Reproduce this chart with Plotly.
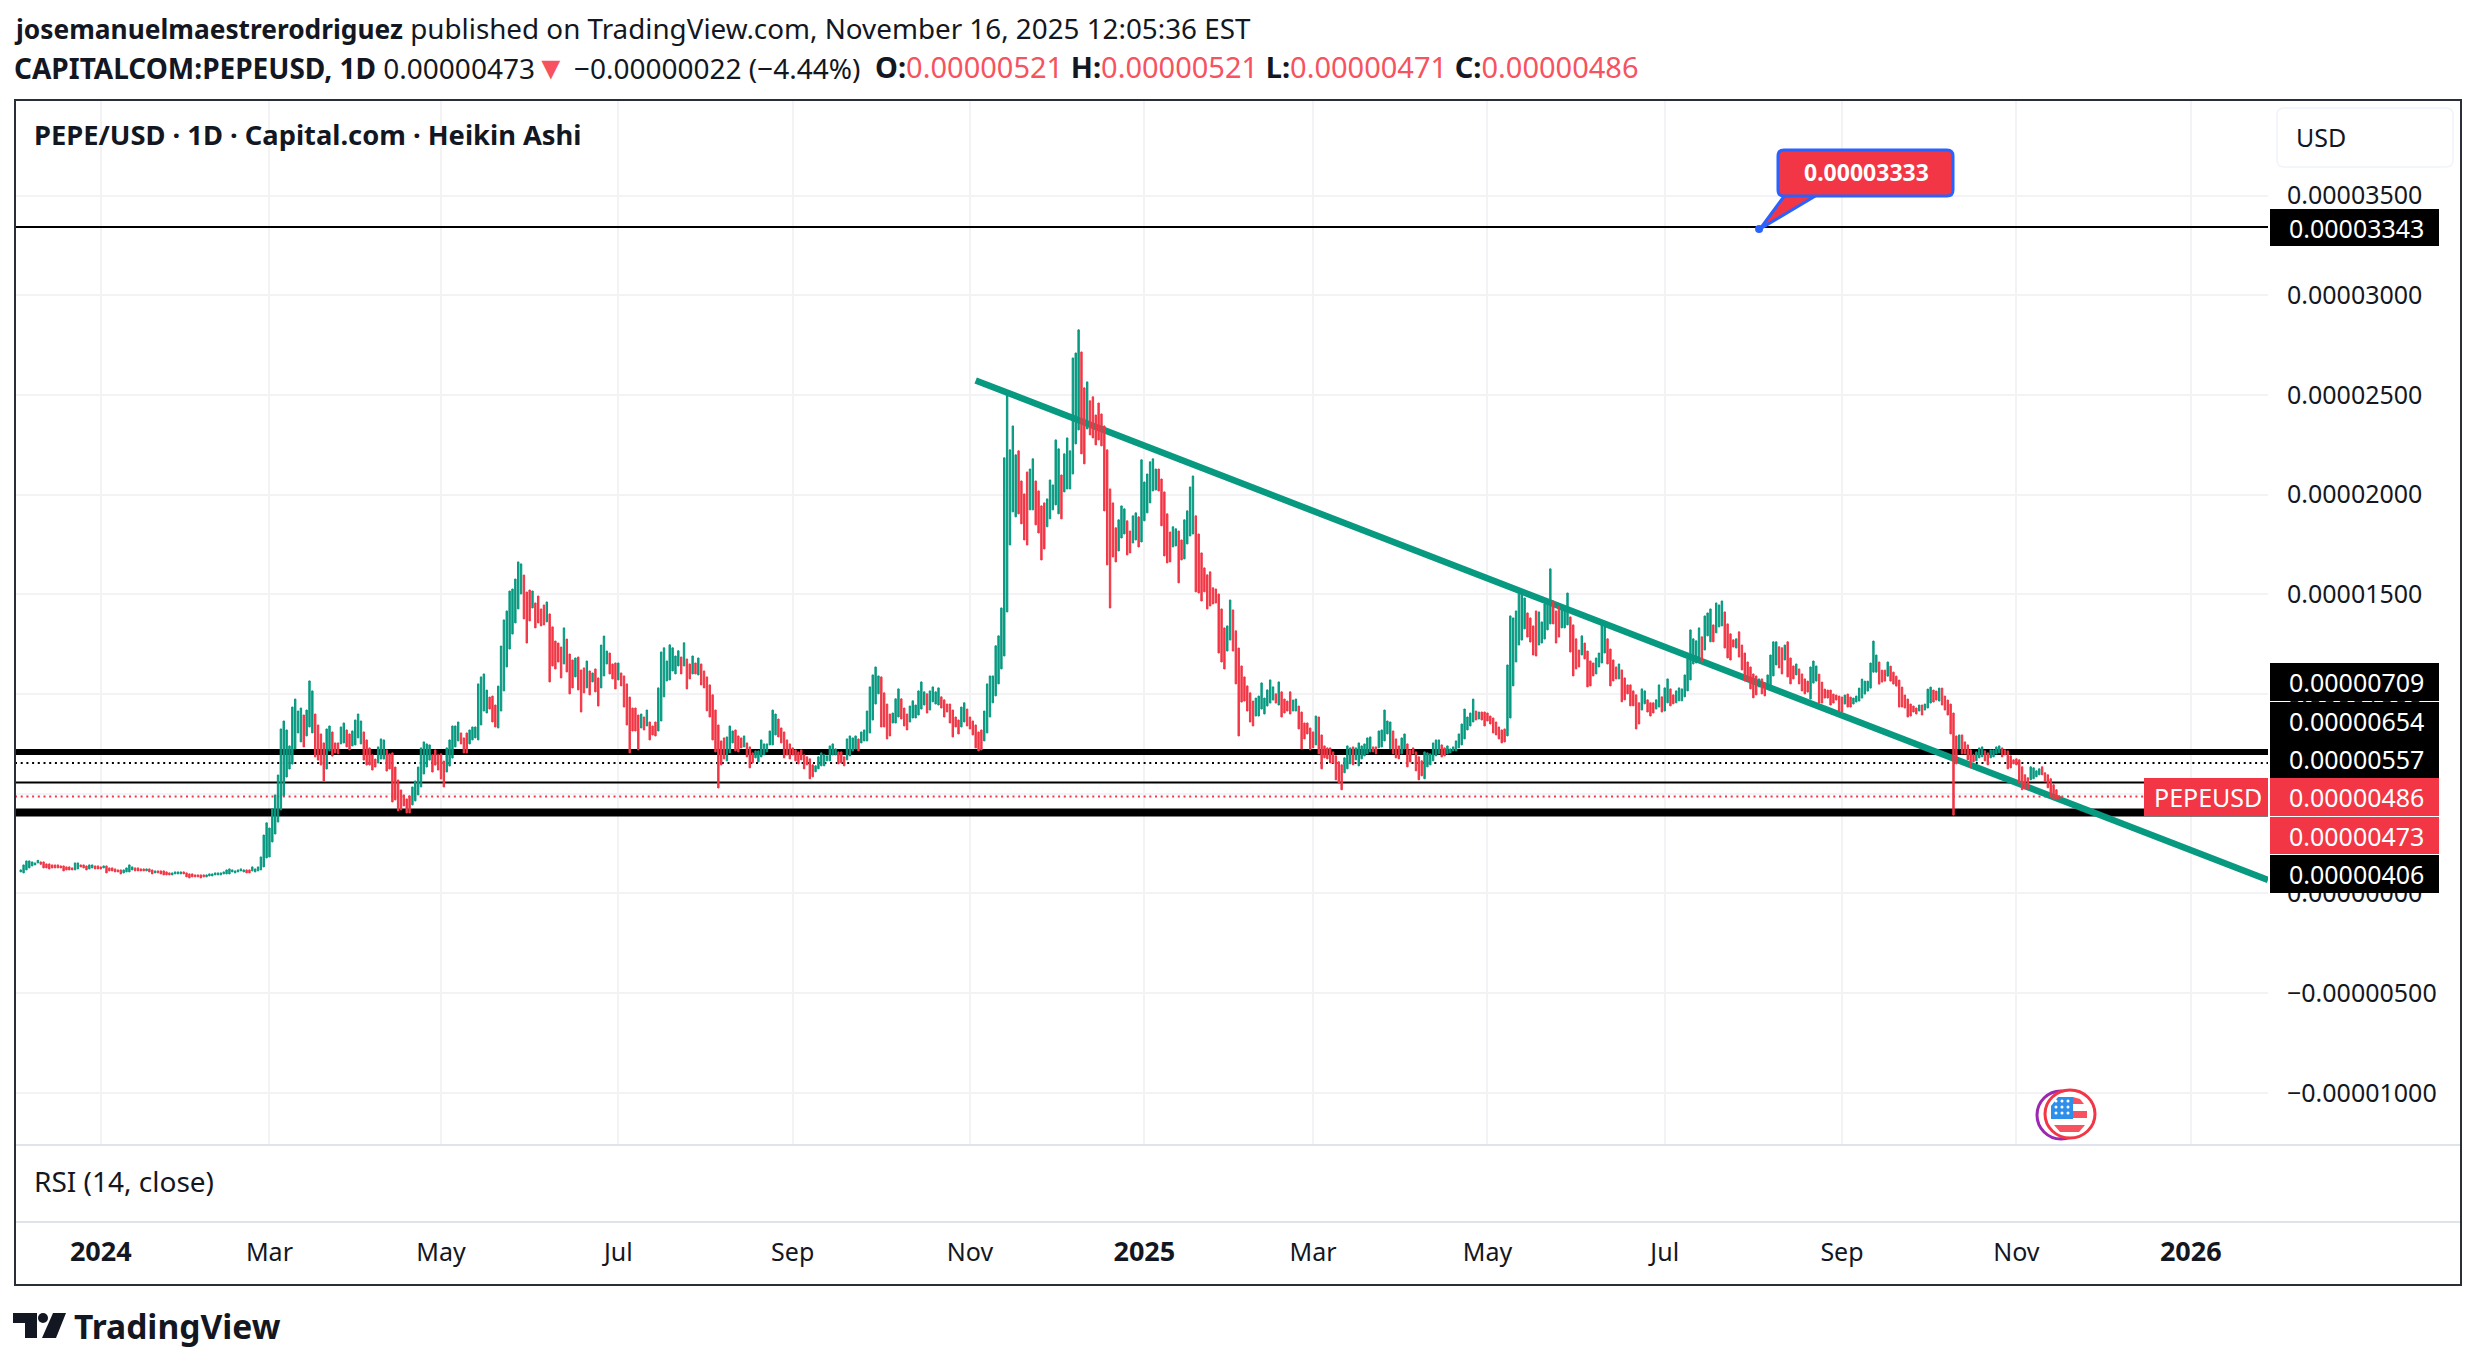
import pandas as pd
import plotly.graph_objects as go

# prices in units of 1e-8 USD
E8 = 1e-8
GREEN = "#089981"
RED = "#F23645"
INK = "#131722"
FONT = "Noto Sans"

low_a = [108,103,118,128,138,143,153,146,128,128,
         123,128,128,128,128,113,118,118,118,118,
         123,133,128,118,123,128,123,123,123,128,
         103,113,113,108,108,98,103,108,108,118,
         113,113,113,113,113,108,98,103,103,98,
         93,93,93,93,98,98,98,98,83,78,
         83,83,83,78,83,83,88,88,93,93,
         93,98,98,98,108,103,108,113,108,103,
         103,113,108,113,118,133,178,183,258,298,
         358]
high_a = [118,143,163,163,158,153,166,158,158,148,
          148,143,143,143,138,138,133,133,128,153,
          153,143,143,138,143,143,138,138,133,138,
          138,128,128,123,118,118,118,128,143,133,
          128,128,123,123,123,123,118,113,113,113,
          113,108,103,103,108,108,108,108,103,98,
          98,93,93,93,93,93,98,98,103,103,
          103,108,118,123,118,113,118,123,118,118,
          118,133,123,133,183,293,354,328,424,494,
          594]
side_a = ("GGGGGGGRRR" "RRRRRRRRRG" "GRRRGGRRRG" "RRRRRRGGGG" "RRRRGRRGRR"
          "RRRGGGGRRR" "RRRRRGGGGG" "GGGGGGGGGR" "RGGGGGGGGG" "G")

low_b = [419,489,584,624,649,725,805,760,735,790,
         835,805,685,669,644,564,624,715,689,705,
         700,750,755,735,720,740,745,780,750,669,
         644,644,619,634,654,674,674,614,624,459,
         469,414,419,439,404,404,444,464,494,534,
         599,634,669,609,644,619,574,534,609,639,
         679,735,765,750,705,705,750,770,780,770,
         845,915,905,925,860,835,830,915]
high_b = [825,865,820,740,935,975,915,930,895,920,
          1066,1016,900,845,800,755,825,840,810,755,
          755,835,855,820,800,815,870,900,865,810,
          770,730,695,674,735,775,770,720,700,705,
          634,569,519,494,474,489,534,564,634,730,
          760,750,745,695,720,695,700,664,730,770,
          840,840,860,805,780,805,820,835,835,1051,
          1086,1101,1020,985,990,945,1040,1241]
side_b = ("GGGGGGGGRG" "GGRRRRGGRR" "RGGRRGGGGR" "RRRRGGGRRR" "RRRRRRGGGG"
          "GGGRRRRRGG" "GGGRRRGGGG" "GGGRRRGG")

low_c = [1016,1136,1226,1301,1357,1427,1502,1377,1256,1367,
         1432,1332,1357,1342,1347,1362,1061,1141,1126,1161,
         1081,1151,1111,1001,1031,1086,1021,910,1006,1031,
         996,1061,1011,940,1031,1091,1151,1101,1076,1026,
         1071,1041,935,845,705,815,815,720,830]
high_c = [1372,1417,1517,1527,1577,1663,1653,1597,1512,1522,
          1517,1457,1492,1427,1447,1462,1402,1337,1266,1256,
          1236,1332,1276,1201,1171,1181,1186,1121,1131,1166,
          1116,1106,1126,1081,1246,1291,1216,1206,1151,1156,
          1156,1106,1091,1051,985,930,930,895,900]
side_c = "GGGGGGGRRR" "GRRRRGRRRR" "RGRRRGRRRG" "RGRRGGGRRR" "GRRRRRRRG"

low_d = [820,840,770,795,790,815,865,986,1066,1071,
         1116,1101,1141,1101,1141,1026,1076,1101,1101,1096,
         1046,1031,916,885,770,710,529,645,675,665,
         705,755,715,710,730,735,685,630,655,680,
         660,685,695,710,745,745,795,785,755,680,
         695,675,695,665,650,670,625,645,575,585,
         610,625,640,640,665,665,695,695,650,655,
         640,670,690,715,725,715,755,765,765,805,
         870,950,1001,835,835,775,790,855,855,885,
         875,840,820,860,880,880,895,925,945,905,
         920,961,950,945,930,885,910,855,785,835,
         800,835,860,840,825,795,730,715,720,765,
         805,885,956,991,1051,1126,1191,1412]
high_d = [885,920,860,840,860,1031,1211,1232,1166,1247,
          1232,1191,1217,1186,1257,1176,1151,1191,1156,1181,
          1151,1116,1086,1046,996,920,845,765,780,785,
          840,815,820,790,780,790,755,735,705,715,
          715,770,750,750,815,920,900,875,830,810,
          770,750,730,720,710,720,695,685,675,645,
          640,685,705,695,690,740,750,725,710,710,
          685,775,790,780,790,775,810,820,915,1036,
          1096,1136,1091,1086,1006,950,900,905,976,1026,
          976,930,900,940,966,945,1016,1061,1011,1001,
          1016,1036,1011,1031,986,971,950,950,920,885,
          870,935,956,925,885,865,845,810,820,915,
          1051,1091,1091,1242,1292,1432,2185,2500]
side_d = ("RGRRRGGGGG" "GGGRGRRGRG" "RRRRRRRRRG" "GGRRRGRRRG" "GGGGGGGRRR"
          "RRRRRRRRRR" "GGGGGGGGRR" "RGGGGRGGGG" "GGGRRRRGGG" "RRRGGGGGGR"
          "GGGGRRRRRR" "RGGRRRRRRG" "GGGGGGGG")

low_e = [1748,1914,1889,1904,1854,1773,1748,1924,1924,1849,
         1808,1673,1728,1839,1879,1924,1949,1904,1879,2014,
         2029,2029,2104,2255,2325,2205,2155,2330,2300,2285,
         2250,2275,2245,1919,1648,1432,1688,1663,1718,1783,
         1803,1698,1708,1758,1773,1738,1763,1869,1909,1959,
         2019,2024,2019,1844,1693,1658,1663,1738,1743,1558,
         1673,1678,1753,1793,1803,1513,1507,1467,1513,1427,
         1442,1452,1457]
high_e = [2225,2345,2200,2220,2069,2004,2114,2129,2180,2069,
          2019,1944,1959,1979,2074,2049,2275,2230,2099,2205,
          2285,2220,2686,2711,2827,2716,2536,2566,2471,2491,
          2400,2460,2405,2345,2225,2029,1959,1834,1874,1944,
          1929,1869,1818,1894,1909,1889,2175,2064,2104,2165,
          2180,2129,2129,2079,2014,1904,1813,1839,1829,1818,
          1773,1874,1919,2039,2094,1894,1803,1708,1633,1598,
          1613,1533,1527]
side_e = ("GGGRRRRGGR" "RRRGGGGGRG" "GGGGGRRGRR" "RRRRRRRRGG" "GRRGGRGGGG"
          "GGRRRRRGGR" "RGGGGRRRRR" "RRR")

low_f = [1206,1161,1126,1216,1271,1216,1051,790,960,965,
         915,860,840,890,890,925,900,940,955,970,
         955,945,885,905,915,900,915,915,825,725,
         775,800,720,730,745,700,625,680,675,655,
         655,570,555,520,605,625,650,645,670,640,
         675,690,700,710,710,700,730,735,765,800,
         725,700,680,675,700,725,635,660,700,615,
         570,590,575,635,645,665,690,700,685,690,
         700,705,715,715,730,745,775,820,840,860,
         870,875,870,840,865,850,805,795,775,755,
         760,790,880,1041,1161,1246,1271,1327,1286,1261,
         1196,1191,1246,1256,1276,1322,1352]
high_f = [1502,1427,1332,1342,1472,1422,1317,1231,1141,1086,
          1041,1006,965,980,990,1056,980,1021,1071,1036,
          1001,1061,1011,975,965,1011,970,975,940,910,
          855,855,830,810,890,885,795,740,730,730,
          710,690,660,645,680,740,730,735,730,755,
          740,750,780,785,735,735,815,820,920,865,
          860,815,775,740,780,800,750,720,730,710,
          685,665,710,705,700,755,770,770,745,730,
          740,725,735,765,800,850,925,885,905,975,
          915,910,910,910,905,890,880,860,835,820,
          825,1146,1392,1382,1417,1527,1507,1482,1407,1382,
          1342,1417,1412,1362,1452,1472,1628]
side_f = ("RRRGGRRRRR" "RRRGGGGGGG" "RGRRRRGGRR" "RRRRGRRRRR" "RRRRGGGRGG"
          "GGGGRRGGGG" "GRRRGGRRRR" "RRGGGGGGRR" "GGGGGGGGGG" "RGRRRRRRRR"
          "RGGGGGGGRR" "RRGGGGG")

low_g = [1352,1256,1286,1332,1332,1347,1211,1091,1126,1136,
         1196,1176,1036,1041,1091,1101,1136,1156,1206,1151,
         1041,1066,1076,1076,961,971,1001,941,941,825,
         850,920,951,910,890,905,925,935,910,915,
         956,941,951,956,966,966,986,1016,1071,1151,
         1156,1186,1161,1221,1292,1262,1262,1307,1337,1342,
         1231,1181,1171,1236,1231,1186,1121,1066,1066,1026,
         981,996,1036,1001,991,1046,1046,1091,1146,1131,
         1101,1171,1086,1051,1076,1096,1051,1016,1001]
high_g = [1467,1417,1442,1442,1422,1507,1387,1347,1277,1221,
          1292,1256,1216,1166,1156,1181,1206,1347,1337,1277,
          1226,1171,1136,1151,1121,1081,1046,1046,1016,996,
          956,1026,1016,971,956,956,971,1046,986,1031,
          1076,1026,996,1016,1031,1026,1096,1176,1322,1277,
          1267,1332,1287,1392,1407,1427,1347,1457,1447,1467,
          1412,1352,1302,1272,1277,1312,1246,1206,1161,1136,
          1101,1091,1076,1076,1056,1096,1196,1262,1262,1237,
          1232,1246,1262,1181,1141,1151,1126,1101,1076]
side_g = ("RRRGGGRRRR" "GRRRRGGGGR" "RRRGRRRRRR" "RGGRRRGGRG" "GRRGGGGGGG"
          "GGRGGGRGGG" "RRRRGRRRRR" "RRGRRGGGGR" "RGRRRGRRR")

low_h = [1010,975,1055,1065,955,955,980,980,945,955,
         970,915,910,950,935,935,950,960,965,980,
         1000,1015,1030,1110,1110,1050,1060,1065,1090,1065,
         1050,1040,935,935,930,885,890,910,900,915,
         895,920,930,955,960,970,965,945,920,895,
         800,393,650,725,700,700,670,630,660,665,
         680,685,665,645,680,685,700,705,685,695,
         625,630,650,645,555,520,525,525,570,575,
         585,595,595,560,530,485,475,475,475]
high_h = [1065,1136,1166,1141,1100,1060,1025,1020,1020,1000,
          995,990,985,995,1000,985,980,990,1030,1075,
          1065,1065,1156,1266,1196,1161,1120,1120,1161,1140,
          1110,1090,1070,1035,995,975,950,940,930,945,
          945,950,1025,1035,1020,1015,1030,1030,990,970,
          950,905,790,795,795,760,745,720,695,710,
          730,735,715,705,720,720,735,740,730,720,
          715,690,670,675,670,635,595,580,635,630,
          615,625,635,605,595,575,545,520,490]
side_h = ("RGGGRRRRRR" "RRRGRRGGGG" "GGGGGRRRGR" "RRRRRRRRRG" "RGGGRRGRRR"
          "RRRGRRRRRG" "GGRRGGGGRR" "RRRRRRRRGG" "GGRRRRRRR")

bar_low = low_a + low_b + low_c + low_d + low_e + low_f + low_g + low_h
bar_high = high_a + high_b + high_c + high_d + high_e + high_f + high_g + high_h
bar_side = side_a + side_b + side_c + side_d + side_e + side_f + side_g + side_h
bar_dates = pd.date_range(end="2025-11-16", periods=len(bar_low), freq="D")

y_ticks = [-1000, -500, 0, 500, 1000, 1500, 2000, 2500, 3000, 3500]
y_labels = ["\u22120.00001000", "\u22120.00000500", "0.00000000", "0.00000500", "0.00001000",
            "0.00001500", "0.00002000", "0.00002500", "0.00003000", "0.00003500"]
# gridlines sit on the first bar of the month, a day or two off the calendar date early on
x_ticks = ["2024-01-01", "2024-02-29", "2024-04-29", "2024-06-30", "2024-08-30", "2024-10-31",
           "2024-12-31", "2025-02-28", "2025-04-30", "2025-07-01", "2025-09-01", "2025-11-01", "2026-01-01"]
YEAR = '<span style="font-size:27px"><b>%s</b></span>'
x_labels = [YEAR % "2024", "Mar", "May", "Jul", "Sep", "Nov", YEAR % "2025", "Mar", "May", "Jul", "Sep", "Nov", YEAR % "2026"]

x_start = "2023-12-02"
x_end = "2026-01-28"
y_min = -1262
y_max = 3980

level_top = 3343
level_thick_hi = 709
level_dotted = 654
level_thin = 557
level_last = 486
level_thick_lo = 406
trend_dates = ["2024-11-02", x_end]
trend_values = [2573, 67]
callout_date = "2025-08-03"
callout_value = 3333

# price scale labels: text, colour, top and bottom in page pixels
price_tags = [("0.00003343", "#000000", 209, 246),
              ("0.00000709", "#000000", 663, 701),
              ("0.00000654", "#000000", 702, 740),
              ("0.00000557", "#000000", 740, 778),
              ("0.00000486", RED, 778, 816),
              ("0.00000473", RED, 817, 854),
              ("0.00000406", "#000000", 855, 893)]

PLOT_L, PLOT_R, PLOT_T, PLOT_B = 15, 2268, 100, 1145

def px_x(x):
    return (x - PLOT_L) / (PLOT_R - PLOT_L)

def px_y(y):
    return (PLOT_B - y) / (PLOT_B - PLOT_T)

def rounded(x0, y0, x1, y1, r):
    a, b, c, d = px_x(x0), px_y(y0), px_x(x1), px_y(y1)
    ax, bx, ay, by = px_x(x0 + r), px_x(x1 - r), px_y(y0 + r), px_y(y1 - r)
    return (f"M {ax} {b} L {bx} {b} Q {c} {b} {c} {ay} L {c} {by} Q {c} {d} {bx} {d} "
            f"L {ax} {d} Q {a} {d} {a} {by} L {a} {ay} Q {a} {b} {ax} {b} Z")

def paper_rect(fig, x0, y0, x1, y1, fill=None, line=None, width=0, layer="above"):
    fig.add_shape(type="rect", xref="paper", yref="paper", x0=px_x(x0), x1=px_x(x1), y0=px_y(y0), y1=px_y(y1),
                  fillcolor=fill, line=dict(color=line, width=width), layer=layer)

def paper_path(fig, path, fill=None, line=None, width=0):
    fig.add_shape(type="path", xref="paper", yref="paper", path=path, fillcolor=fill,
                  line=dict(color=line, width=width), layer="above")

def poly(points):
    return "M " + " L ".join(f"{px_x(x)} {px_y(y)}" for x, y in points) + " Z"

def text_at(fig, text, x, y, size, color=INK, anchor="left"):
    fig.add_annotation(xref="paper", yref="paper", x=px_x(x), y=px_y(y), text=text, showarrow=False,
                       xanchor=anchor, yanchor="middle", borderpad=0, align="left",
                       font=dict(family=FONT, size=size, color=color))

def level_line(fig, value, color, width, dash="solid"):
    fig.add_shape(type="line", xref="x", yref="y", x0=x_start, x1=x_end, y0=value * E8, y1=value * E8,
                  line=dict(color=color, width=width, dash=dash), layer="between")

bar_open = [(l if s == "G" else h) * E8 for l, h, s in zip(bar_low, bar_high, bar_side)]
bar_close = [(h if s == "G" else l) * E8 for l, h, s in zip(bar_low, bar_high, bar_side)]

fig = go.Figure()
fig.add_trace(go.Candlestick(x=bar_dates, open=bar_open, close=bar_close,
                             high=[v * E8 for v in bar_high], low=[v * E8 for v in bar_low],
                             increasing=dict(line=dict(color=GREEN, width=1), fillcolor=GREEN),
                             decreasing=dict(line=dict(color=RED, width=1), fillcolor=RED),
                             whiskerwidth=0, showlegend=False))
fig.add_trace(go.Scatter(x=[callout_date], y=[callout_value * E8], mode="markers",
                         marker=dict(color="#2962FF", size=8), showlegend=False))

fig.update_layout(width=2477, height=1368, autosize=False, template="none",
                  margin=dict(l=PLOT_L, r=2477 - PLOT_R, t=PLOT_T, b=1368 - PLOT_B, pad=0),
                  paper_bgcolor="white", plot_bgcolor="white", showlegend=False,
                  font=dict(family=FONT, color=INK))
fig.update_xaxes(type="date", range=[x_start, x_end], rangeslider_visible=False,
                 tickmode="array", tickvals=x_ticks, ticktext=x_labels,
                 showgrid=True, gridcolor="#F3F3F5", gridwidth=2, zeroline=False, showline=False,
                 ticks="", ticklabelstandoff=90, tickfont=dict(family=FONT, size=25, color=INK))
fig.update_yaxes(side="right", range=[y_min * E8, y_max * E8], tickmode="array",
                 tickvals=[v * E8 for v in y_ticks], ticktext=y_labels,
                 showgrid=True, gridcolor="#F3F3F5", gridwidth=2, zeroline=False, showline=False,
                 ticks="", ticklabelstandoff=18, tickfont=dict(family=FONT, size=25, color=INK))

# horizontal levels and the trend line sit under the bars
level_line(fig, level_top, "#000000", 2)
level_line(fig, level_thick_hi, "#000000", 6)
level_line(fig, level_dotted, "#000000", 2, "2px,3.7px")
level_line(fig, level_thin, "#000000", 2)
level_line(fig, level_thick_lo, "#000000", 8)
level_line(fig, level_last, RED, 2, "2px,3.7px")
fig.add_shape(type="line", xref="x", yref="y", x0=trend_dates[0], x1=trend_dates[1],
              y0=trend_values[0] * E8, y1=trend_values[1] * E8,
              line=dict(color=GREEN, width=6.5), layer="between")

# frame and pane dividers
fig.add_shape(type="line", xref="paper", yref="paper", x0=px_x(15), x1=px_x(2461), y0=px_y(1145), y1=px_y(1145),
              line=dict(color="#E0E3EB", width=2), layer="above")
fig.add_shape(type="line", xref="paper", yref="paper", x0=px_x(15), x1=px_x(2461), y0=px_y(1222), y1=px_y(1222),
              line=dict(color="#E0E3EB", width=2), layer="above")
paper_rect(fig, 15, 100, 2461, 1285, line="#2A2E39", width=2)

# price scale tags
for tag, color, top, bottom in price_tags:
    paper_rect(fig, 2270, top, 2439, bottom, fill=color)
    text_at(fig, tag, 2288, (top + bottom) / 2, 25, "white")
paper_rect(fig, 2144, 778, 2268, 816, fill=RED)
text_at(fig, "PEPEUSD", 2153, 797, 25, "white")

paper_path(fig, rounded(2277, 108, 2453, 167, 7), fill="white", line="#F0F3FA", width=1.5)
text_at(fig, "USD", 2295, 137, 25)

# callout on the top level
paper_path(fig, poly([(1785, 195), (1760, 229), (1817, 195)]), fill=RED, line="#2962FF", width=3)
paper_path(fig, rounded(1778, 150, 1953, 196, 6), fill=RED, line="#2962FF", width=3)
text_at(fig, "<b>0.00003333</b>", 1866, 172, 23, "white", anchor="center")

# header texts
text_at(fig, '<span style="font-size:26.3px"><b>josemanuelmaestrerodriguez</b></span> '
             'published on TradingView.com, November 16, 2025 12:05:36 EST', 13, 28, 27.8)
down = "#F7525F"
text_at(fig, f'<b>CAPITALCOM:PEPEUSD, 1D</b> 0.00000473<span style="color:{down};font-size:32px">\u25BC</span> '
             f'\u22120.00000022 (\u22124.44%)', 13, 67, 28)
ohlc = " ".join(f'<b>{k}:</b><span style="color:{down}">{v}</span>'
                for k, v in [("O", "0.00000521"), ("H", "0.00000521"), ("L", "0.00000471"), ("C", "0.00000486")])
text_at(fig, ohlc, 874, 67, 29)
text_at(fig, "<b>PEPE/USD \u00B7 1D \u00B7 Capital.com \u00B7 Heikin Ashi</b>", 33, 135, 27.3)
text_at(fig, "RSI (14, close)", 33, 1181, 28)

# TradingView mark
paper_path(fig, poly([(13, 1313), (37, 1313), (37, 1338), (25, 1338), (25, 1323), (13, 1323)]), fill=INK)
fig.add_shape(type="circle", xref="paper", yref="paper", x0=px_x(38), x1=px_x(48), y0=px_y(1313), y1=px_y(1323),
              fillcolor=INK, line=dict(width=0), layer="above")
paper_path(fig, poly([(53, 1313), (66, 1313), (56, 1338), (42, 1338)]), fill=INK)
text_at(fig, "<b>TradingView</b>", 73, 1326, 33.6)

# economic event flag
fig.add_shape(type="circle", xref="paper", yref="paper", x0=px_x(2037), x1=px_x(2085), y0=px_y(1091), y1=px_y(1139),
              fillcolor="white", line=dict(color="#9C27B0", width=3), layer="above")
fig.add_shape(type="circle", xref="paper", yref="paper", x0=px_x(2045), x1=px_x(2095), y0=px_y(1090), y1=px_y(1138),
              fillcolor="white", line=dict(color=RED, width=3), layer="above")
paper_path(fig, poly([(2058, 1097), (2073, 1097), (2073, 1119), (2051, 1119), (2051, 1106)]), fill="#2E8FEA")
paper_path(fig, poly([(2073, 1097), (2080, 1099), (2084, 1104), (2073, 1104)]), fill="#F7525F")
paper_path(fig, poly([(2073, 1111), (2087, 1111), (2087, 1118), (2073, 1118)]), fill="#F7525F")
paper_path(fig, poly([(2054, 1125), (2085, 1125), (2079, 1132), (2060, 1132)]), fill="#F7525F")
for sx in (2056, 2062, 2068):
    for sy in (1101, 1107, 1113):
        fig.add_shape(type="circle", xref="paper", yref="paper", x0=px_x(sx - 1.5), x1=px_x(sx + 1.5),
                      y0=px_y(sy - 1.5), y1=px_y(sy + 1.5), fillcolor="white", line=dict(width=0), layer="above")

fig.write_html("out.html", config={"displayModeBar": False},
               post_script="document.body.style.margin='0';document.body.style.overflow='hidden';")
